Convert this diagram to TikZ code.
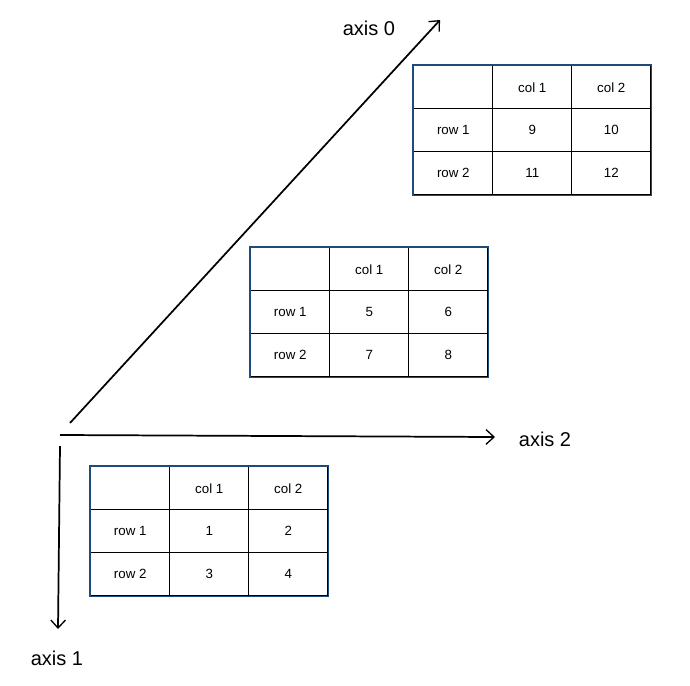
\documentclass[tikz,border=0pt]{standalone}
\usepackage{fontspec}
\setmainfont{Liberation Sans}
\usetikzlibrary{matrix,arrows.meta}
\definecolor{tblue}{HTML}{1E4B7A}
\tikzset{
  cell/.style={draw=black, line width=0.8pt, minimum width=59.25pt, minimum height=32.25pt, inner sep=0pt, anchor=center, font=\fontsize{10}{12}\selectfont},
  tbl/.style={matrix of nodes, nodes={cell}, column sep=-0.8pt, row sep=-0.8pt, inner sep=0pt, anchor=north west},
  border/.style={draw=tblue, line width=1pt},
  axisline/.style={draw=black, line width=1.3pt, -{Straight Barb[length=6pt,width=11pt,line width=1pt]}},
  axislabel/.style={font=\fontsize{15}{18}\selectfont}
}
\begin{document}
\begin{tikzpicture}[x=0.75pt,y=-0.75pt]
\useasboundingbox (0,0) rectangle (690,686);
% tables
\matrix (t3) [tbl] at (413,65) {
  & col 1 & col 2 \\
  row 1 & 9 & 10 \\
  row 2 & 11 & 12 \\
};
\draw[border] (t3.north west) rectangle (t3.south east);
\matrix (t2) [tbl] at (250,247) {
  & col 1 & col 2 \\
  row 1 & 5 & 6 \\
  row 2 & 7 & 8 \\
};
\draw[border] (t2.north west) rectangle (t2.south east);
\matrix (t1) [tbl] at (90,466) {
  & col 1 & col 2 \\
  row 1 & 1 & 2 \\
  row 2 & 3 & 4 \\
};
\draw[border] (t1.north west) rectangle (t1.south east);
% axes
\coordinate (s0) at (70,423);
\coordinate (e0) at (440,20);
\coordinate (s2) at (60,435);
\coordinate (e2) at (495,437);
\coordinate (s1) at (60,446);
\coordinate (e1) at (58,629);
\draw[axisline] (s0) -- (e0);
\draw[axisline] (s2) -- (e2);
\draw[axisline] (s1) -- (e1);
\node[axislabel] (l0) at (369,28) {axis 0};
\node[axislabel] (l2) at (545,439) {axis 2};
\node[axislabel] (l1) at (57,658) {axis 1};
\end{tikzpicture}
\end{document}
